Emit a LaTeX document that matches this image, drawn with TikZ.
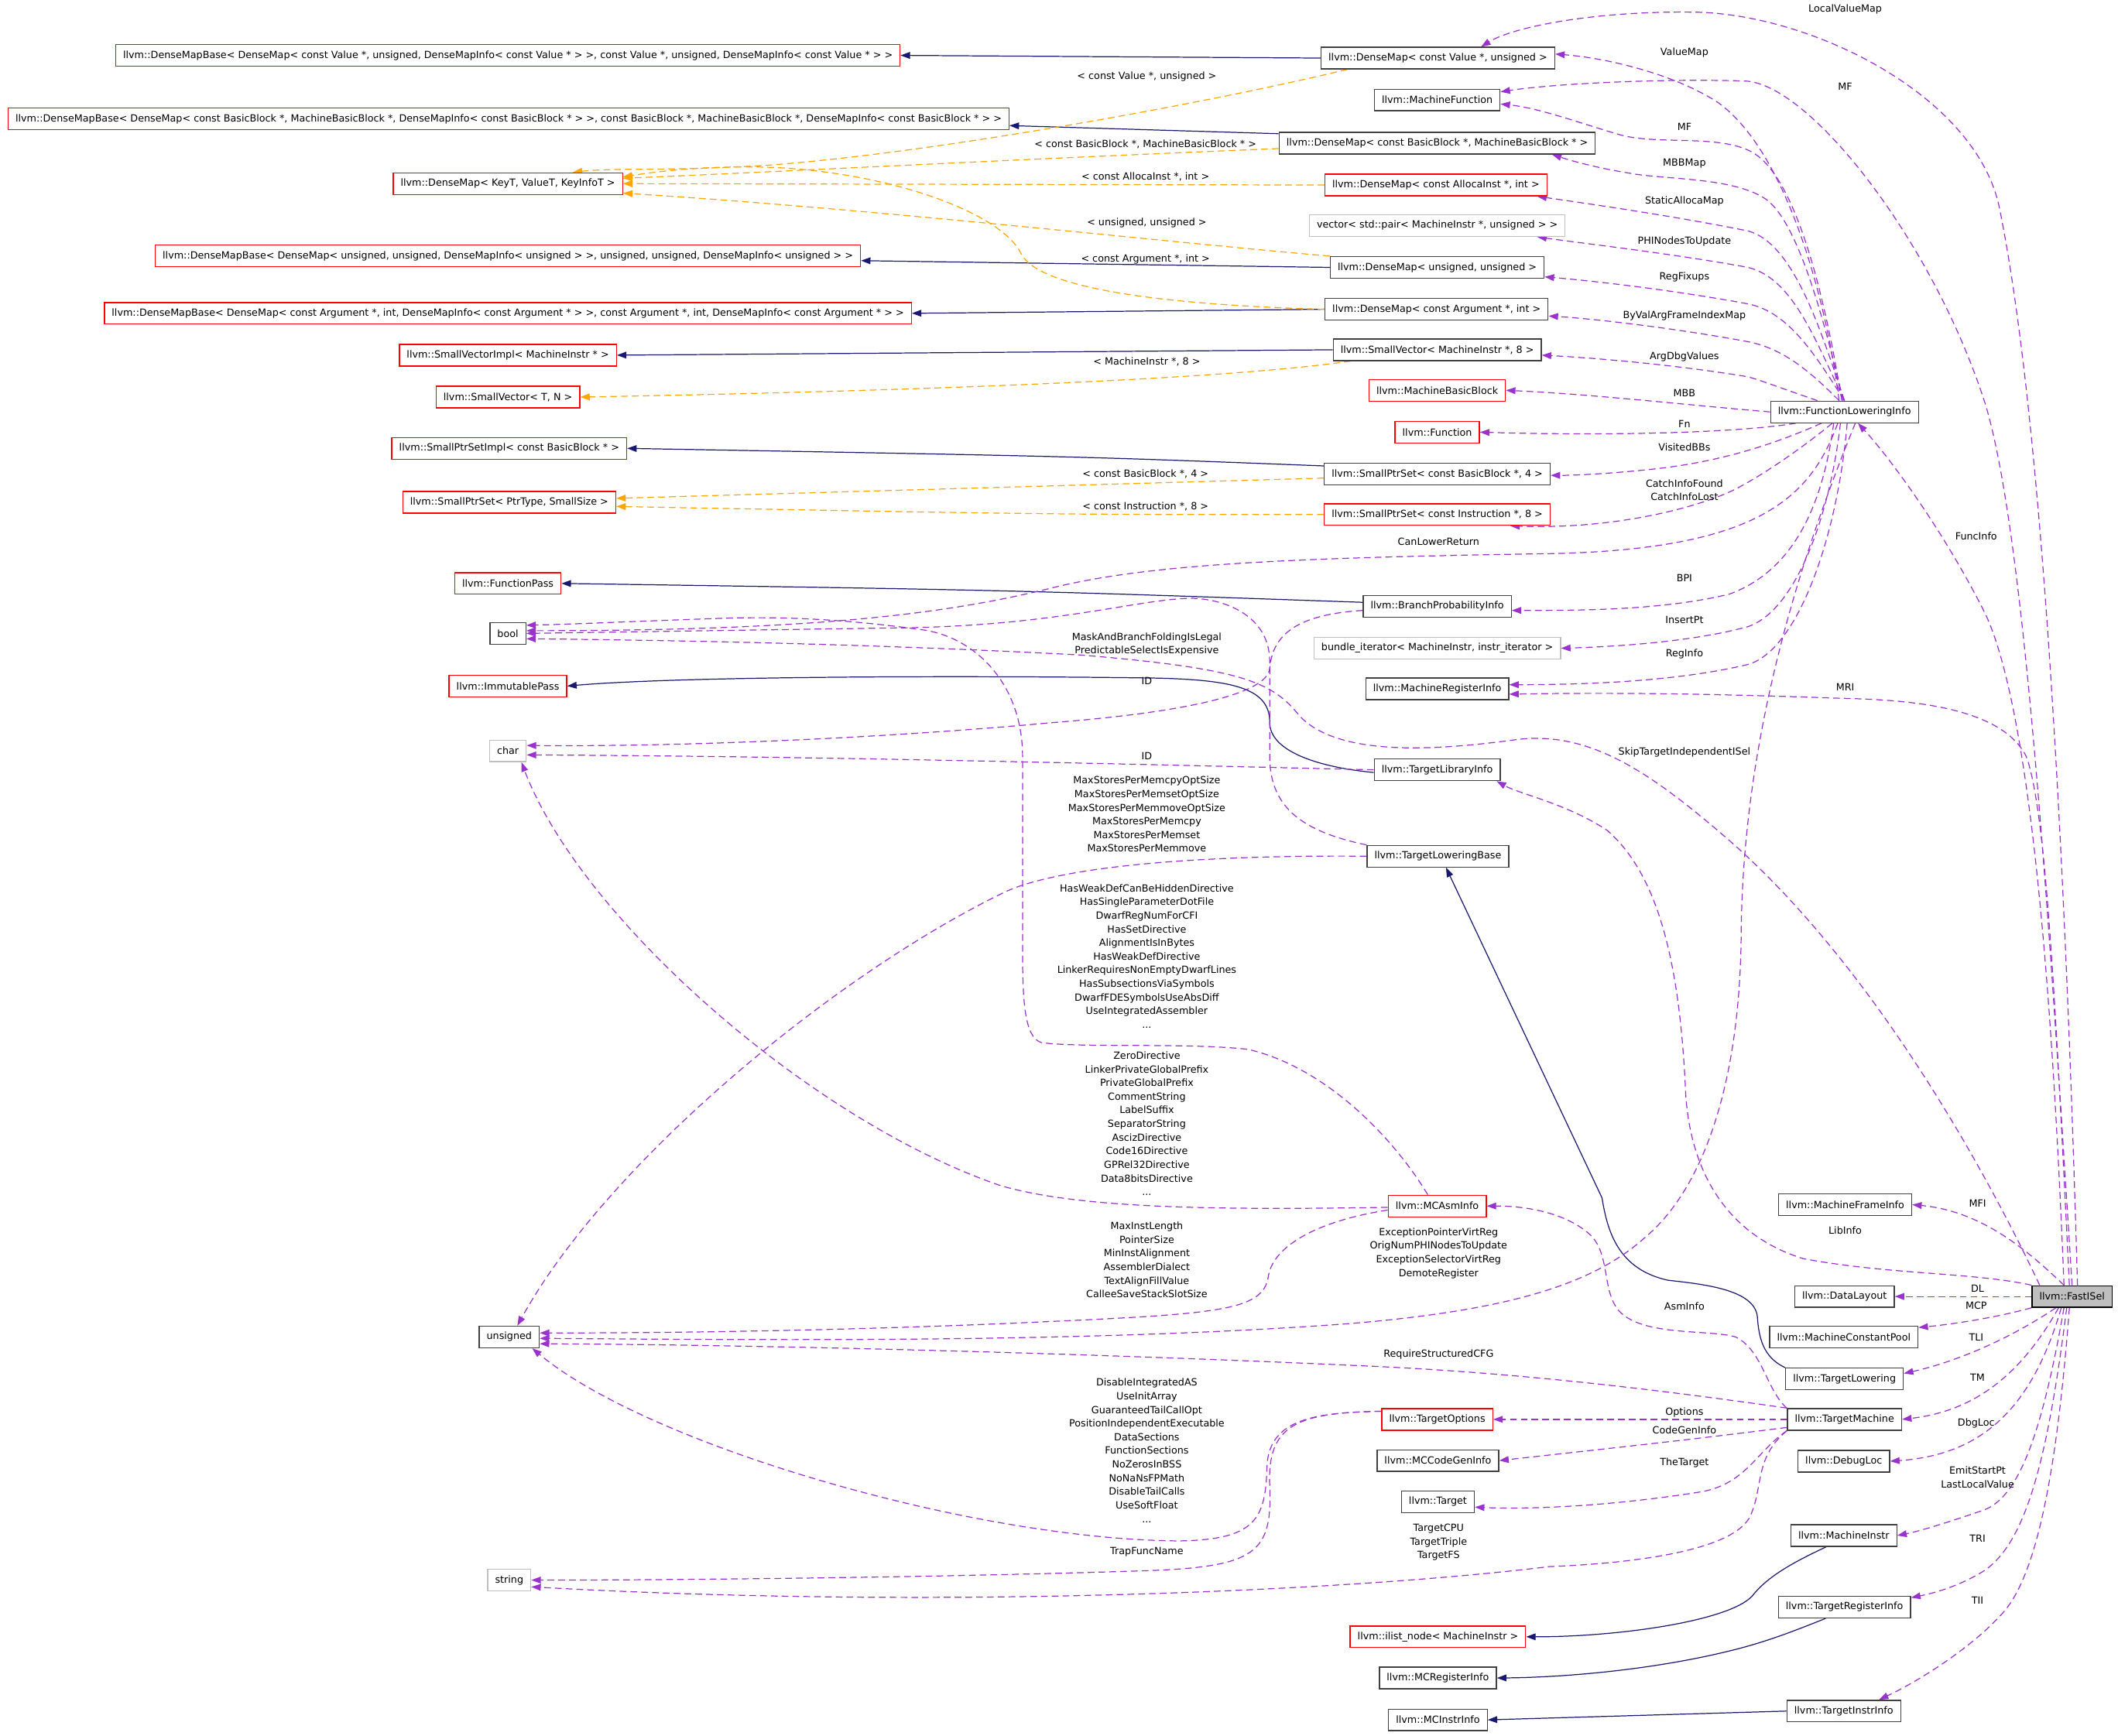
\documentclass[tikz,border=0pt]{standalone}
\usepackage{fontspec}
\setmainfont{DejaVu Sans}
\usetikzlibrary{arrows.meta}
\definecolor{inhc}{HTML}{191970}
\definecolor{usec}{HTML}{9A32CD}
\definecolor{tmplc}{HTML}{FFA500}
\definecolor{bdark}{HTML}{404040}
\definecolor{bgray}{HTML}{BFBFBF}
\definecolor{bred}{HTML}{FF0000}
\newcommand\dgfont{\fontsize{7.3}{10.1}\selectfont}
\pgfdeclarelayer{edgelayer}
\pgfsetlayers{edgelayer,main}
\begin{document}
\begin{tikzpicture}[x=1pt,y=-1pt,
 cls/.style={draw=bdark,line width=0.75pt,fill=white,inner xsep=5.5pt,inner ysep=0pt,minimum height=16pt,font=\dgfont},
 rcls/.style={cls,draw=bred},
 gcls/.style={cls,draw=bgray},
 lbl/.style={font=\dgfont,align=center,inner sep=0pt},
 inh/.style={draw=inhc,line width=0.7pt,-{Triangle[length=7pt,width=5pt]}},
 usg/.style={draw=usec,line width=0.7pt,dash pattern=on 5pt off 3pt,-{Triangle[length=7pt,width=5pt]}},
 tmpl/.style={draw=tmplc,line width=0.7pt,dash pattern=on 5pt off 3pt,-{Triangle[length=7pt,width=5pt]}}]
\useasboundingbox (0,0) rectangle (1568,1285);
% ---------- nodes ----------
\node[rcls] (DMBValue) at (376,41) {llvm::DenseMapBase< DenseMap< const Value *, unsigned, DenseMapInfo< const Value * > >, const Value *, unsigned, DenseMapInfo< const Value * > >};
\node[cls] (DMValue) at (1064.5,43) {llvm::DenseMap< const Value *, unsigned >};
\node[cls] (MachineFunction) at (1064,74) {llvm::MachineFunction};
\node[rcls] (DMBBB) at (376.5,88) {llvm::DenseMapBase< DenseMap< const BasicBlock *, MachineBasicBlock *, DenseMapInfo< const BasicBlock * > >, const BasicBlock *, MachineBasicBlock *, DenseMapInfo< const BasicBlock * > >};
\node[cls] (DMBB) at (1064,106) {llvm::DenseMap< const BasicBlock *, MachineBasicBlock * >};
\node[rcls] (DMKeyT) at (376,136) {llvm::DenseMap< KeyT, ValueT, KeyInfoT >};
\node[rcls] (DMAlloca) at (1063,137) {llvm::DenseMap< const AllocaInst *, int >};
\node[gcls] (vectorpair) at (1064,167) {vector< std::pair< MachineInstr *, unsigned > >};
\node[rcls] (DMBuns) at (376,189.5) {llvm::DenseMapBase< DenseMap< unsigned, unsigned, DenseMapInfo< unsigned > >, unsigned, unsigned, DenseMapInfo< unsigned > >};
\node[cls] (DMuns) at (1064,198) {llvm::DenseMap< unsigned, unsigned >};
\node[rcls] (DMBArg) at (376,232) {llvm::DenseMapBase< DenseMap< const Argument *, int, DenseMapInfo< const Argument * > >, const Argument *, int, DenseMapInfo< const Argument * > >};
\node[cls] (DMArg) at (1063.5,229) {llvm::DenseMap< const Argument *, int >};
\node[rcls] (SVImpl) at (376,263) {llvm::SmallVectorImpl< MachineInstr * >};
\node[cls] (SVMI) at (1064,259) {llvm::SmallVector< MachineInstr *, 8 >};
\node[rcls] (SVTN) at (376,294) {llvm::SmallVector< T, N >};
\node[rcls] (MBBnode) at (1064,289) {llvm::MachineBasicBlock};
\node[cls] (FLI) at (1365.5,305) {llvm::FunctionLoweringInfo};
\node[rcls] (Function) at (1064,320) {llvm::Function};
\node[rcls] (SPSImpl) at (377,332) {llvm::SmallPtrSetImpl< const BasicBlock * >};
\node[cls] (SPSBB) at (1064,351) {llvm::SmallPtrSet< const BasicBlock *, 4 >};
\node[rcls] (SPST) at (377,372) {llvm::SmallPtrSet< PtrType, SmallSize >};
\node[rcls] (SPSInstr) at (1064,381) {llvm::SmallPtrSet< const Instruction *, 8 >};
\node[rcls] (FunctionPass) at (376,432) {llvm::FunctionPass};
\node[cls] (BPI) at (1064,449) {llvm::BranchProbabilityInfo};
\node[cls] (bool) at (376,469) {bool};
\node[gcls] (bundle) at (1064,480) {bundle\_iterator< MachineInstr, instr\_iterator >};
\node[rcls] (ImmutablePass) at (376,508) {llvm::ImmutablePass};
\node[cls] (MRInode) at (1064,510) {llvm::MachineRegisterInfo};
\node[gcls] (char) at (376,556) {char};
\node[cls] (TLibInfo) at (1064,570) {llvm::TargetLibraryInfo};
\node[cls] (TLB) at (1064.5,634) {llvm::TargetLoweringBase};
\node[rcls] (MCAsmInfo) at (1064,893) {llvm::MCAsmInfo};
\node[cls] (MFI) at (1366,892) {llvm::MachineFrameInfo};
\node[cls] (DataLayout) at (1365.5,960) {llvm::DataLayout};
\node[cls,fill=bgray,draw=black] (FastISel) at (1534,960) {llvm::FastISel};
\node[cls] (unsigned) at (377,990) {unsigned};
\node[cls] (MCPool) at (1365,990) {llvm::MachineConstantPool};
\node[cls] (TargetLowering) at (1365.5,1021) {llvm::TargetLowering};
\node[rcls] (TargetOptions) at (1064,1051) {llvm::TargetOptions};
\node[cls] (TargetMachine) at (1365.5,1051) {llvm::TargetMachine};
\node[cls] (MCCodeGenInfo) at (1064.5,1081.5) {llvm::MCCodeGenInfo};
\node[cls] (DebugLoc) at (1365,1082) {llvm::DebugLoc};
\node[cls] (Target) at (1064.5,1112) {llvm::Target};
\node[cls] (MachineInstr) at (1365,1137) {llvm::MachineInstr};
\node[gcls] (string) at (377,1170) {string};
\node[cls] (TRI) at (1365.5,1190) {llvm::TargetRegisterInfo};
\node[rcls] (ilist) at (1064.5,1212) {llvm::ilist\_node< MachineInstr >};
\node[cls] (MCRegisterInfo) at (1064.5,1242.5) {llvm::MCRegisterInfo};
\node[cls] (TII) at (1365,1267) {llvm::TargetInstrInfo};
\node[cls] (MCInstrInfo) at (1064.5,1273.5) {llvm::MCInstrInfo};
% ---------- edges ----------
\begin{pgfonlayer}{edgelayer}
% inheritance
\draw[inh] (DMValue.west) -- (DMBValue.east);
\draw[inh] ([yshift=7pt]DMBB.west) -- ([yshift=-5pt]DMBBB.east);
\draw[inh] (DMuns.west) -- ([yshift=-3.5pt]DMBuns.east);
\draw[inh] (DMArg.west) -- (DMBArg.east);
\draw[inh] (SVMI.west) -- (SVImpl.east);
\draw[inh] ([yshift=6pt]SPSBB.west) .. controls (800,338) .. (SPSImpl.east);
\draw[inh] ([yshift=3pt]BPI.west) .. controls (750,437) .. (FunctionPass.east);
\draw[inh] ([yshift=-2pt]TLibInfo.west) .. controls (975,568) and (940,556) .. (940,535) .. controls (940,510) and (915,503) .. (850,502) .. controls (700,500) and (500,501) .. (ImmutablePass.east);
\draw[inh] (TargetLowering.north west) .. controls (1305,1005) and (1302,990) .. (1301,975) .. controls (1299,955) and (1262,951) .. (1235,948) .. controls (1198,940) and (1190,912) .. (1186,887) -- ([xshift=6pt]TLB.south);
\draw[inh] ([xshift=-13pt]MachineInstr.south) .. controls (1325,1158) and (1308,1168) .. (1297,1182) .. controls (1280,1200) and (1200,1212) .. (ilist.east);
\draw[inh] ([xshift=-14pt]TRI.south) .. controls (1330,1207) and (1312,1214) .. (1290,1220) .. controls (1230,1236) and (1160,1242) .. (MCRegisterInfo.east);
\draw[inh] (TII.west) -- (MCInstrInfo.east);
% template instances
\draw[tmpl] ([xshift=-67pt]DMValue.south) .. controls (900,75) and (700,112) .. (573,122) .. controls (500,127) and (455,124) .. ([xshift=48pt]DMKeyT.north);
\draw[tmpl] ([yshift=-4pt]DMBB.west) .. controls (750,118) and (560,128) .. ([yshift=4pt]DMKeyT.east);
\draw[tmpl] (DMAlloca.west) -- (DMKeyT.east);
\draw[tmpl] (DMuns.north west) .. controls (850,178) and (650,155) .. ([yshift=-7pt]DMKeyT.east);
\draw[tmpl] (DMArg.west) .. controls (870,226) and (770,215) .. (756,188) .. controls (742,158) and (660,128) .. (573,124) .. controls (520,122) and (480,128) .. ([yshift=5pt]DMKeyT.east);
\draw[tmpl] ([xshift=-64pt]SVMI.south) .. controls (900,282) and (650,290) .. (SVTN.east);
\draw[tmpl] ([yshift=-3pt]SPSBB.west) -- ([yshift=3pt]SPST.east);
\draw[tmpl] (SPSInstr.west) .. controls (780,381) .. ([yshift=-3pt]SPST.east);
% FunctionLoweringInfo members
\draw[usg] ([xshift=-4pt]FLI.north) .. controls (1352,220) and (1322,112) .. (1272,76) .. controls (1240,55) and (1190,43) .. ([yshift=3pt]DMValue.east);
\draw[usg] ([xshift=-2pt]FLI.north) .. controls (1352,225) and (1332,140) .. (1302,116) .. controls (1280,98) and (1230,108) .. (1200,100) .. controls (1172,92) and (1140,80) .. ([yshift=-3pt]MachineFunction.east);
\draw[usg] ([xshift=-1pt]FLI.north) .. controls (1350,235) and (1330,160) .. (1305,146) .. controls (1280,131) and (1230,133) .. (1205,128) .. controls (1180,124) and (1160,118) .. ([xshift=85pt]DMBB.south);
\draw[usg] (FLI.north) .. controls (1348,245) and (1328,180) .. (1294,171) .. controls (1240,160) and (1170,150) .. ([xshift=75pt]DMAlloca.south);
\draw[usg] (FLI.north) .. controls (1345,255) and (1328,206) .. (1294,198) .. controls (1240,188) and (1170,180) .. ([xshift=74pt]vectorpair.south);
\draw[usg] (FLI.north) .. controls (1345,265) and (1325,231) .. (1294,225) .. controls (1240,215) and (1180,208) .. ([yshift=-7pt]DMuns.east);
\draw[usg] ([xshift=-4pt]FLI.north) .. controls (1340,275) and (1320,258) .. (1294,253) .. controls (1240,243) and (1180,236) .. ([yshift=-5pt]DMArg.east);
\draw[usg] ([xshift=-20pt]FLI.north) .. controls (1320,288) and (1305,282) .. (1294,279) .. controls (1240,270) and (1180,265) .. ([yshift=-4pt]SVMI.east);
\draw[usg] (FLI.west) .. controls (1250,300) and (1180,292) .. (MBBnode.east);
\draw[usg] ([xshift=-36pt]FLI.south) .. controls (1290,320) and (1200,323) .. (Function.east);
\draw[usg] ([xshift=-17pt]FLI.south) .. controls (1320,326) and (1280,341) .. (1227,347) .. controls (1200,350) and (1170,352) .. ([yshift=-1pt]SPSBB.east);
\draw[usg] ([xshift=-9pt]FLI.south) .. controls (1330,335) and (1300,355) .. (1281,364) .. controls (1250,378) and (1190,392) .. ([xshift=54pt]SPSInstr.south);
\draw[usg] ([xshift=-5pt]FLI.south) .. controls (1340,370) and (1300,407) .. (1146,410) .. controls (950,413) and (850,418) .. (780,435) .. controls (700,455) and (600,467) .. ([yshift=2pt]bool.east);
\draw[usg] ([xshift=-8pt]FLI.south) .. controls (1350,370) and (1330,422) .. (1280,440) .. controls (1230,452) and (1170,452) .. ([yshift=-3pt]BPI.east);
\draw[usg] ([xshift=-3pt]FLI.south) .. controls (1355,380) and (1330,452) .. (1294,464) .. controls (1250,476) and (1190,479) .. (bundle.east);
\draw[usg] ([xshift=2pt]FLI.south) .. controls (1360,400) and (1330,482) .. (1294,492) .. controls (1240,505) and (1170,507) .. ([yshift=3pt]MRInode.east);
\draw[usg] ([xshift=8pt]FLI.south) .. controls (1330,420) and (1290,550) .. (1289,693) .. controls (1288,800) and (1262,880) .. (1217,917) .. controls (1180,950) and (1120,970) .. (1000,980) .. controls (800,995) and (550,992) .. ([yshift=-1pt]unsigned.east);
% FastISel members
\draw[usg] ([xshift=4pt]FastISel.north) .. controls (1528,600) and (1510,300) .. (1480,153) .. controls (1462,70) and (1340,10) .. (1254,9) .. controls (1180,8) and (1120,20) .. ([xshift=32pt]DMValue.north);
\draw[usg] (FastISel.north) .. controls (1518,700) and (1500,400) .. (1470,300) .. controls (1432,180) and (1340,62) .. (1292,60) .. controls (1230,58) and (1150,62) .. ([yshift=6pt]MachineFunction.east);
\draw[usg] ([xshift=-6pt]FastISel.north) .. controls (1518,700) and (1500,520) .. (1470,455) .. controls (1440,395) and (1400,340) .. ([xshift=10pt]FLI.south);
\draw[usg] ([xshift=-2pt]FastISel.north) .. controls (1522,750) and (1515,600) .. (1500,560) .. controls (1480,520) and (1400,518) .. (1361,517) .. controls (1250,513) and (1180,513) .. ([yshift=-4pt]MRInode.east);
\draw[usg] ([xshift=-24pt]FastISel.north) .. controls (1462,850) and (1380,710) .. (1281,623) .. controls (1220,570) and (1175,540) .. (1120,548) .. controls (1060,556) and (990,560) .. (962,530) .. controls (942,505) and (920,495) .. (800,485) .. controls (650,477) and (500,474) .. ([yshift=-4pt]bool.east);
\draw[usg] (FastISel.north west) .. controls (1460,942) and (1400,944) .. (1335,932) .. controls (1280,915) and (1252,870) .. (1248,811) .. controls (1244,720) and (1230,650) .. (1190,615) .. controls (1160,595) and (1125,588) .. ([xshift=44pt]TLibInfo.south);
\draw[usg] ([xshift=-6pt]FastISel.north) .. controls (1505,930) and (1470,897) .. (MFI.east);
\draw[usg] (FastISel.west) -- (DataLayout.east);
\draw[usg] (FastISel.south west) .. controls (1480,975) and (1450,980) .. ([yshift=7pt]MCPool.east);
\draw[usg] ([xshift=-12pt]FastISel.south) .. controls (1490,990) and (1450,1008) .. ([yshift=4pt]TargetLowering.east);
\draw[usg] ([xshift=-10pt]FastISel.south) .. controls (1495,1020) and (1460,1045) .. (TargetMachine.east);
\draw[usg] ([xshift=-8pt]FastISel.south) .. controls (1505,1040) and (1470,1077) .. (DebugLoc.east);
\draw[usg] ([xshift=-6pt]FastISel.south) .. controls (1512,1060) and (1495,1108) .. (1469,1118) .. controls (1440,1128) and (1420,1134) .. (MachineInstr.east);
\draw[usg] ([xshift=-4pt]FastISel.south) .. controls (1516,1080) and (1500,1142) .. (1469,1163) .. controls (1450,1175) and (1430,1180) .. ([yshift=7pt]TRI.east);
\draw[usg] ([xshift=-2pt]FastISel.south) .. controls (1522,1100) and (1506,1168) .. (1483,1194) .. controls (1460,1220) and (1420,1245) .. ([xshift=26pt]TII.north);
% TargetMachine members
\draw[usg] (TargetMachine.west) -- (TargetOptions.east);
\draw[usg] ([yshift=-6pt]TargetMachine.west) .. controls (1250,1066) .. (MCCodeGenInfo.east);
\draw[usg] (TargetMachine.south west) .. controls (1300,1075) and (1292,1100) .. (1257,1105) .. controls (1200,1114) and (1140,1118) .. ([yshift=-4pt]Target.east);
\draw[usg] (TargetMachine.south west) .. controls (1298,1080) and (1306,1102) .. (1295,1124) .. controls (1280,1150) and (1200,1158) .. (1147,1160) .. controls (1000,1178) and (700,1192) .. ([yshift=-5pt]string.east);
\draw[usg] (TargetMachine.north west) .. controls (1308,1030) and (1305,1000) .. (1285,990) .. controls (1265,984) and (1215,990) .. (1198,970) .. controls (1186,955) and (1192,930) .. (1178,915) .. controls (1160,898) and (1130,893) .. (MCAsmInfo.east);
\draw[usg] (TargetMachine.north west) .. controls (1200,1025) and (1100,1015) .. (1001,1011) .. controls (850,1004) and (600,996) .. ([yshift=-5pt]unsigned.east);
% TargetOptions members
\draw[usg] ([yshift=6pt]TargetOptions.west) .. controls (975,1046) and (940,1050) .. (938,1085) .. controls (937,1125) and (930,1140) .. (873,1141) .. controls (720,1140) and (480,1070) .. ([xshift=17pt]unsigned.south);
\draw[usg] ([yshift=6pt]TargetOptions.west) .. controls (960,1046) and (938,1055) .. (940,1100) .. controls (942,1150) and (930,1160) .. (850,1163) .. controls (700,1168) and (500,1170) .. (string.east);
% MCAsmInfo members
\draw[usg] ([yshift=-1pt]MCAsmInfo.west) .. controls (900,896) and (800,895) .. (741,878) .. controls (600,830) and (430,680) .. ([xshift=10pt]char.south);
\draw[usg] ([xshift=-7pt]MCAsmInfo.north) .. controls (1030,840) and (980,790) .. (924,777) .. controls (880,772) and (800,776) .. (771,772) .. controls (758,768) and (757,740) .. (757,700) -- (757,560) .. controls (757,505) and (720,470) .. (680,466) .. controls (630,459) and (580,456) .. (530,458) .. controls (470,460) and (430,462) .. ([yshift=6pt]bool.east);
\draw[usg] ([yshift=-3pt]MCAsmInfo.west) .. controls (970,905) and (942,925) .. (939,945) .. controls (935,972) and (900,973) .. (745,980) .. controls (600,986) and (480,987) .. ([yshift=3pt]unsigned.east);
% TargetLoweringBase members
\draw[usg] (TLB.west) .. controls (900,633) and (790,640) .. (745,660) .. controls (620,720) and (450,860) .. ([xshift=6pt]unsigned.north);
\draw[usg] (TLB.north west) .. controls (960,615) and (940,595) .. (940,560) -- (940,490) .. controls (940,455) and (905,443) .. (881,443) .. controls (840,444) and (780,464) .. (660,465) -- (bool.east);
% ID members
\draw[usg] ([yshift=-3pt]BPI.west) .. controls (960,455) and (942,470) .. (940,495) .. controls (938,515) and (870,528) .. (780,535) .. controls (650,547) and (500,553) .. ([yshift=4pt]char.east);
\draw[usg] (TLibInfo.west) .. controls (800,565) and (600,560) .. ([yshift=-3pt]char.east);
\end{pgfonlayer}
% ---------- edge labels ----------
\node[lbl] (l1) at (849,57) {< const Value *, unsigned >};
\node[lbl] (l2) at (848,107) {< const BasicBlock *, MachineBasicBlock * >};
\node[lbl] (l3) at (848,131) {< const AllocaInst *, int >};
\node[lbl] (l4) at (849,165) {< unsigned, unsigned >};
\node[lbl] (l5) at (848,192) {< const Argument *, int >};
\node[lbl] (l6) at (849,268) {< MachineInstr *, 8 >};
\node[lbl] (l7) at (848,351) {< const BasicBlock *, 4 >};
\node[lbl] (l8) at (848,375) {< const Instruction *, 8 >};
\node[lbl] (l9) at (1065,401) {CanLowerReturn};
\node[lbl] (l10) at (849,477) {MaskAndBranchFoldingIsLegal\\PredictableSelectIsExpensive};
\node[lbl] (l11) at (849,504) {ID};
\node[lbl] (l12) at (849,560) {ID};
\node[lbl] (l13) at (849,603) {MaxStoresPerMemcpyOptSize\\MaxStoresPerMemsetOptSize\\MaxStoresPerMemmoveOptSize\\MaxStoresPerMemcpy\\MaxStoresPerMemset\\MaxStoresPerMemmove};
\node[lbl] (l14) at (849,708) {HasWeakDefCanBeHiddenDirective\\HasSingleParameterDotFile\\DwarfRegNumForCFI\\HasSetDirective\\AlignmentIsInBytes\\HasWeakDefDirective\\LinkerRequiresNonEmptyDwarfLines\\HasSubsectionsViaSymbols\\DwarfFDESymbolsUseAbsDiff\\UseIntegratedAssembler\\...};
\node[lbl] (l15) at (849,832) {ZeroDirective\\LinkerPrivateGlobalPrefix\\PrivateGlobalPrefix\\CommentString\\LabelSuffix\\SeparatorString\\AscizDirective\\Code16Directive\\GPRel32Directive\\Data8bitsDirective\\...};
\node[lbl] (l16) at (849,933) {MaxInstLength\\PointerSize\\MinInstAlignment\\AssemblerDialect\\TextAlignFillValue\\CalleeSaveStackSlotSize};
\node[lbl] (l17) at (1065,928) {ExceptionPointerVirtReg\\OrigNumPHINodesToUpdate\\ExceptionSelectorVirtReg\\DemoteRegister};
\node[lbl] (l18) at (1247,967) {AsmInfo};
\node[lbl] (l19) at (1065,1003) {RequireStructuredCFG};
\node[lbl] (l20) at (849,1074) {DisableIntegratedAS\\UseInitArray\\GuaranteedTailCallOpt\\PositionIndependentExecutable\\DataSections\\FunctionSections\\NoZerosInBSS\\NoNaNsFPMath\\DisableTailCalls\\UseSoftFloat\\...};
\node[lbl] (l21) at (849,1149) {TrapFuncName};
\node[lbl] (l22) at (1065,1142) {TargetCPU\\TargetTriple\\TargetFS};
\node[lbl] (l23) at (1247,1046) {Options};
\node[lbl] (l24) at (1247,1059) {CodeGenInfo};
\node[lbl] (l25) at (1247,1083) {TheTarget};
\node[lbl] (l26) at (1366,7) {LocalValueMap};
\node[lbl] (l27) at (1247,39) {ValueMap};
\node[lbl] (l28) at (1366,64) {MF};
\node[lbl] (l29) at (1247,94) {MF};
\node[lbl] (l30) at (1247,121) {MBBMap};
\node[lbl] (l31) at (1247,149) {StaticAllocaMap};
\node[lbl] (l32) at (1247,179) {PHINodesToUpdate};
\node[lbl] (l33) at (1247,205) {RegFixups};
\node[lbl] (l34) at (1247,234) {ByValArgFrameIndexMap};
\node[lbl] (l35) at (1247,264) {ArgDbgValues};
\node[lbl] (l36) at (1247,291) {MBB};
\node[lbl] (l37) at (1247,314) {Fn};
\node[lbl] (l38) at (1247,331) {VisitedBBs};
\node[lbl] (l39) at (1247,363) {CatchInfoFound\\CatchInfoLost};
\node[lbl] (l40) at (1463,397) {FuncInfo};
\node[lbl] (l41) at (1247,428) {BPI};
\node[lbl] (l42) at (1247,459) {InsertPt};
\node[lbl] (l43) at (1247,484) {RegInfo};
\node[lbl] (l44) at (1366,509) {MRI};
\node[lbl] (l45) at (1247,557) {SkipTargetIndependentISel};
\node[lbl] (l46) at (1464,891) {MFI};
\node[lbl] (l47) at (1366,911) {LibInfo};
\node[lbl] (l48) at (1464,954) {DL};
\node[lbl] (l49) at (1463,967) {MCP};
\node[lbl] (l50) at (1463,990) {TLI};
\node[lbl] (l51) at (1464,1020) {TM};
\node[lbl] (l52) at (1463,1054) {DbgLoc};
\node[lbl] (l53) at (1464,1094) {EmitStartPt\\LastLocalValue};
\node[lbl] (l54) at (1464,1139) {TRI};
\node[lbl] (l55) at (1464,1185) {TII};
\end{tikzpicture}
\end{document}
